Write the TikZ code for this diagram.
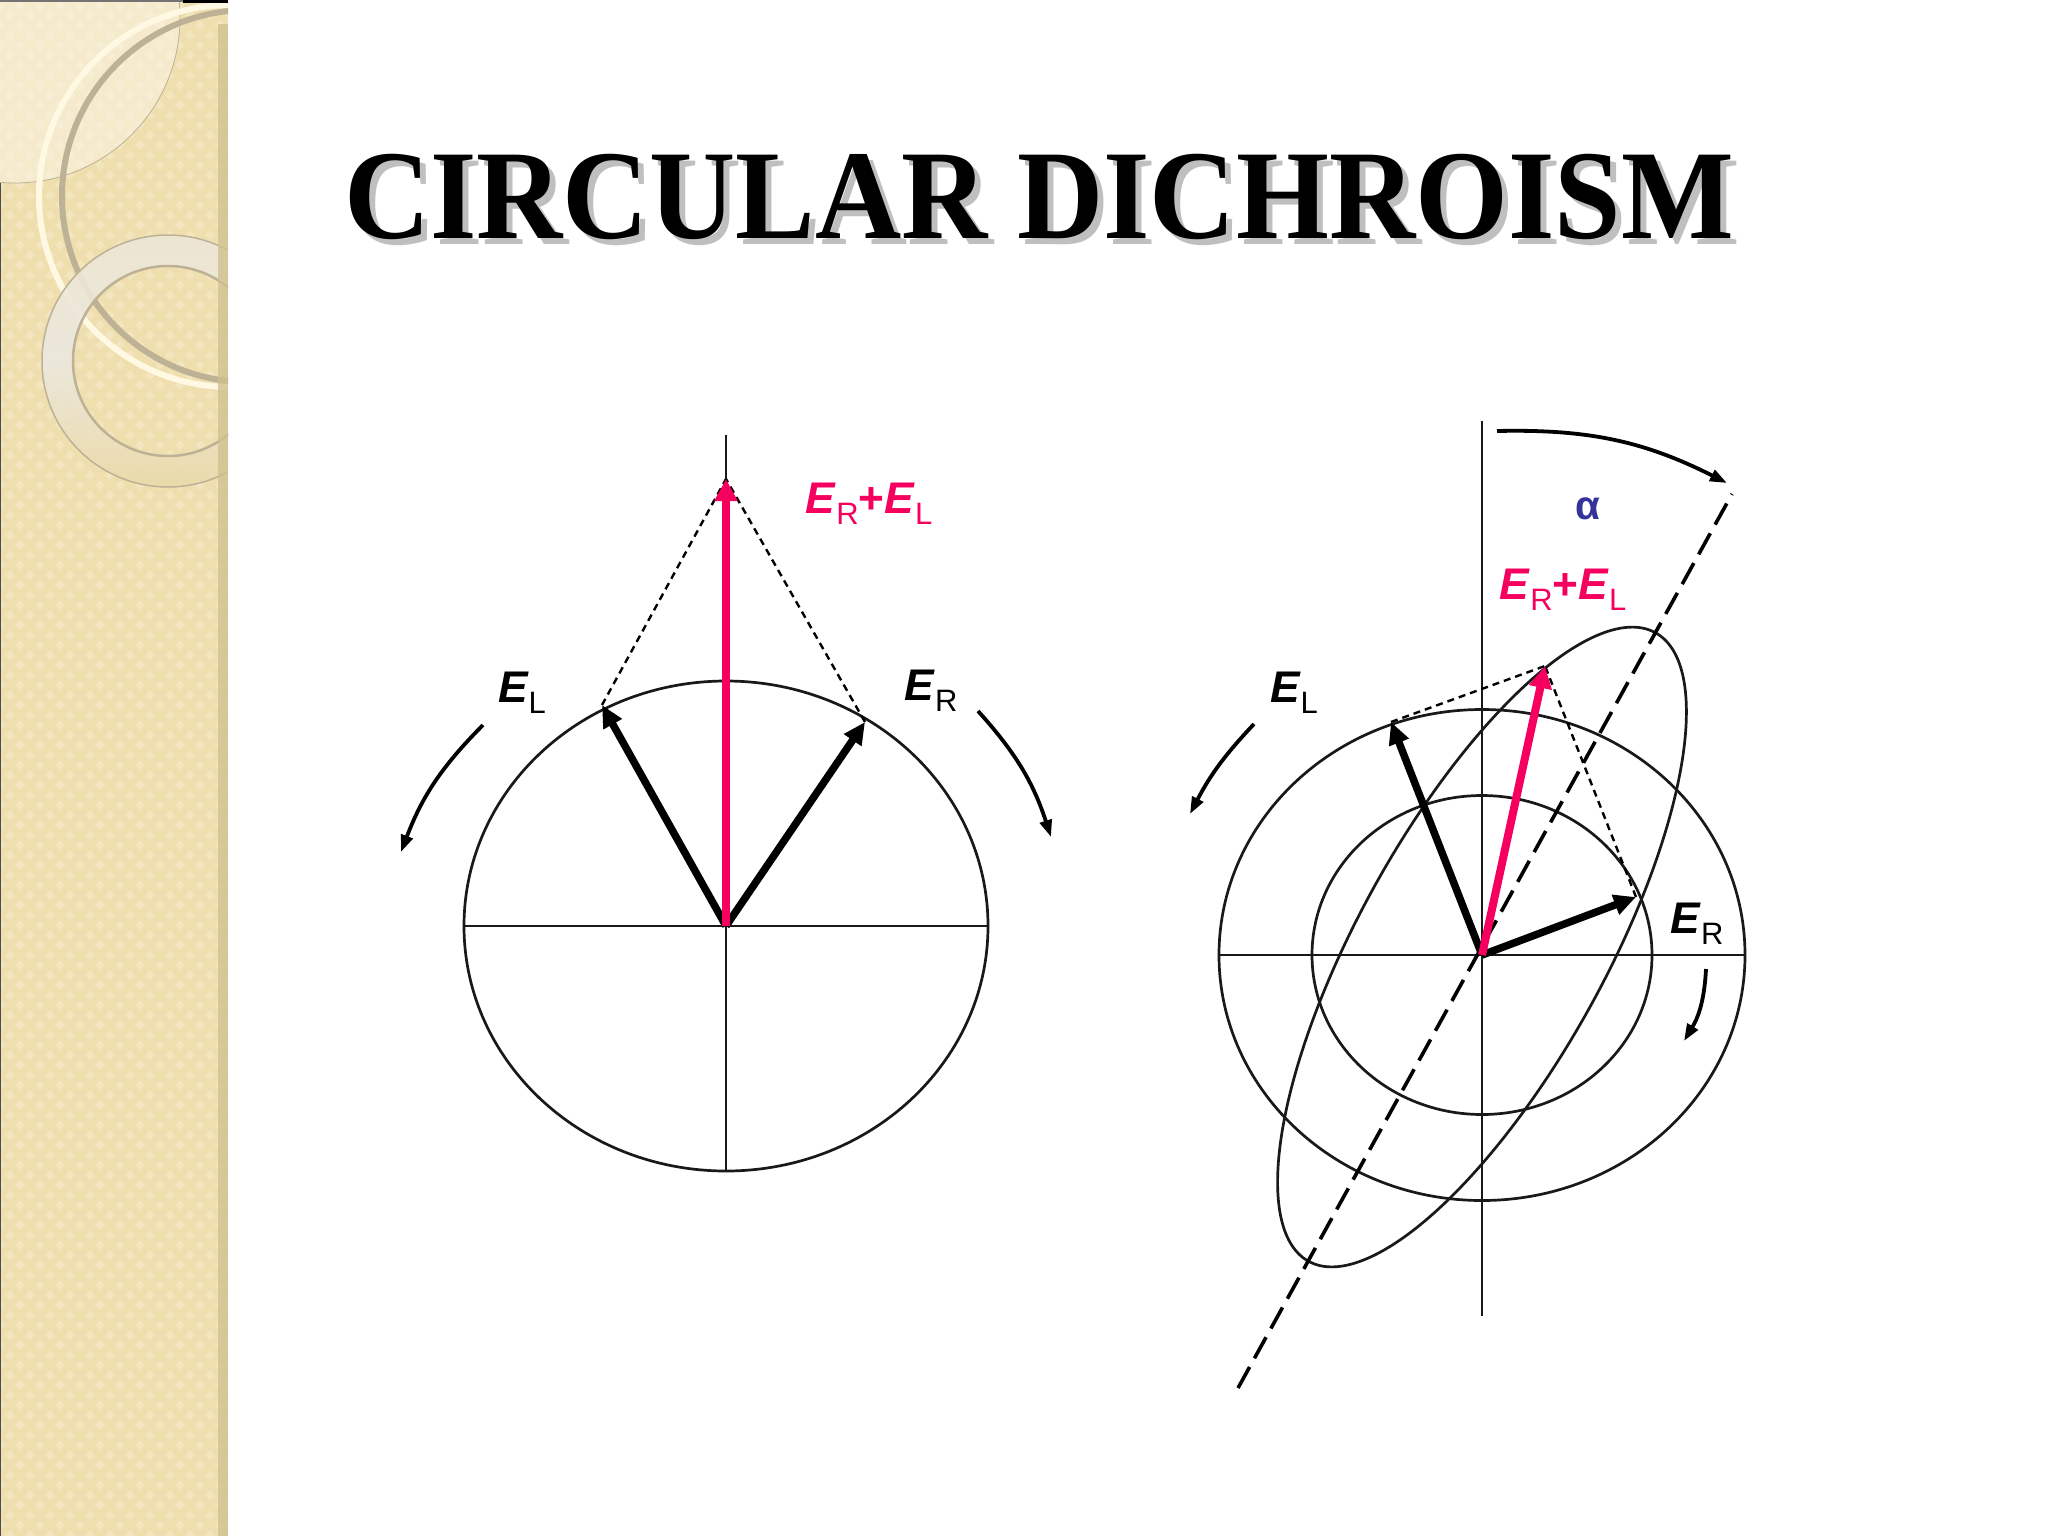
\documentclass[tikz,border=0pt]{standalone}
\usepackage{fontspec}
\setmainfont{Liberation Sans}
\newfontfamily\titlefont{Liberation Serif}
\usetikzlibrary{arrows.meta}
\definecolor{pinkv}{HTML}{F5005F}
\definecolor{bluea}{HTML}{333399}
\definecolor{side}{HTML}{EFDFAE}
\definecolor{sidel}{HTML}{F3E5BE}
\definecolor{band}{HTML}{D0C190}
\definecolor{ringg}{HTML}{BDB196}
\definecolor{ringw}{HTML}{FFF8E2}
\newcommand{\px}{0.2845pt}
\newcommand{\Ee}{\fontsize{12.6}{15}\selectfont\textbf{\textit{E}}}
\newcommand{\Sb}[1]{\raisebox{-0.45ex}{\fontsize{8.8}{10}\selectfont #1}}
\tikzset{
 x=0.01cm,y=-0.01cm,
 thin line/.style={line width=2.7*\px,black!90},
 vec/.style={line width=7.5*\px,-{Triangle[length=22*\px,width=20*\px]},black},
 sumvec/.style={line width=8*\px,-{Triangle[length=22*\px,width=22*\px]},pinkv},
 guide/.style={line width=2.4*\px,dash pattern=on 7*\px off 5*\px,black},
 axis dash/.style={line width=3.6*\px,dash pattern=on 24*\px off 10*\px,black},
 turn/.style={line width=3.8*\px,-{Triangle[length=17*\px,width=12*\px]},black},
 lab/.style={inner sep=0pt,text=black},
 labp/.style={inner sep=0pt,text=pinkv},
 titletext/.style={inner sep=0pt,xscale=0.938},
}
\begin{document}
\begin{tikzpicture}
\useasboundingbox (0,0) rectangle (2048,1536);
\fill[white] (0,0) rectangle (2048,1536);
% sidebar
\begin{scope}
\clip (0,0) rectangle (228,1536);
\fill[side] (0,0) rectangle (228,1536);
\fill[sidel] \foreach \j in {0,...,160}{ \foreach \i in {0,...,12}{
   ({\i*20+mod(\j,2)*10},{\j*10}) -- ++(5,5) -- ++(-5,5) -- ++(-5,-5) -- cycle }};
\fill[white,opacity=.38] (15,18) circle (165);
\draw[line width=.8*\px,ringg] (15,18) circle (165);
\draw[line width=6*\px,ringw] (230,196) circle (191);
\draw[line width=6*\px,ringg] (248,196) circle (186);
\shade[top color=ringw!60!ringg!70!white,bottom color=side!85!band,middle color=ringg!30!white,opacity=.9,even odd rule]
  (168,361) circle (126) (168,361) circle (95);
\draw[line width=1.5*\px,ringg] (168,361) circle (126);
\draw[line width=2.5*\px,ringg] (168,361) circle (95);
\fill[band,opacity=.8] (218,24) rectangle (228,1536);
\fill[black] (183,0) rectangle (228,3);
\fill[black!55] (0,0) rectangle (183,2);
\fill[black!70] (0,183) rectangle (1.5,1536);
\end{scope}
% title
\node[titletext,text=black!25] (titleshadow) at (1045,203) {\titlefont\bfseries\fontsize{36.2}{40}\selectfont CIRCULAR DICHROISM};
\node[titletext,text=black] (title) at (1039,197) {\titlefont\bfseries\fontsize{36.2}{40}\selectfont CIRCULAR DICHROISM};
% left diagram
\coordinate (lc) at (726,926);
\coordinate (lw) at (464,926);
\coordinate (le) at (989,926);
\coordinate (ltop) at (726,435);
\coordinate (lbot) at (726,1171);
\coordinate (lsum) at (726,479);
\coordinate (lL) at (602,705);
\coordinate (lR) at (865,722);
\draw[thin line] (lc) ellipse [x radius=262,y radius=245];
\draw[thin line] (lw) -- (le);
\draw[thin line] (ltop) -- (lbot);
\draw[guide] (lL) -- (lsum);
\draw[guide] (lR) -- (lsum);
\draw[vec] (lc) -- (lL);
\draw[vec] (lc) -- (lR);
\draw[sumvec] (lc) -- (lsum);
\coordinate (la1) at (483,725); \coordinate (la2) at (401,852);
\coordinate (lb1) at (978,711); \coordinate (lb2) at (1051,837);
\draw[turn] (la1) to[bend right=12] (la2);
\draw[turn] (lb1) to[bend left=12] (lb2);
\node[labp] (lsumlab) at (869,504) {\Ee\Sb{R}\textbf{+}\Ee\Sb{L}};
\node[lab] (lEL) at (522,693) {\Ee\Sb{L}};
\node[lab] (lER) at (931,691) {\Ee\Sb{R}};
% right diagram
\coordinate (rc) at (1482,955);
\coordinate (rw) at (1218,955);
\coordinate (re) at (1745,955);
\coordinate (rtop) at (1482,421);
\coordinate (rbot) at (1482,1316);
\coordinate (rsum) at (1545,666);
\coordinate (rL) at (1391,722);
\coordinate (rR) at (1636,897);
\coordinate (rd1) at (1238,1388);
\coordinate (rd2) at (1732,494);
\draw[thin line] (rc) ellipse [x radius=263,y radius=245.5];
\draw[thin line] (rc) ellipse [x radius=170,y radius=159.5];
\draw[thin line,smooth,domain=0:360,samples=180]
  plot ({1482+359*cos(\x)*sin(28.9)+123.5*sin(\x)*cos(28.9)},
        {947-359*cos(\x)*cos(28.9)+123.5*sin(\x)*sin(28.9)});
\draw[thin line] (rw) -- (re);
\draw[thin line] (rtop) -- (rbot);
\draw[axis dash] (rd1) -- (rd2);
\draw[guide] (rL) -- (rsum);
\draw[guide] (rR) -- (rsum);
\draw[vec] (rc) -- (rL);
\draw[vec] (rc) -- (rR);
\draw[sumvec] (rc) -- (rsum);
\coordinate (ra1) at (1497,431); \coordinate (ra2) at (1727,483);
\coordinate (rb1) at (1254,724); \coordinate (rb2) at (1190,814);
\coordinate (rg1) at (1706,969); \coordinate (rg2) at (1684,1041);
\draw[turn] (ra1) to[bend left=14] (ra2);
\draw[turn] (rb1) to[bend right=8] (rb2);
\draw[turn] (rg1) to[bend left=14] (rg2);
\node[inner sep=0pt,text=bluea] (ralpha) at (1588,509) {\fontsize{11.5}{13}\selectfont\textbf{α}};
\node[labp] (rsumlab) at (1563,590) {\Ee\Sb{R}\textbf{+}\Ee\Sb{L}};
\node[lab] (rEL) at (1294,693) {\Ee\Sb{L}};
\node[lab] (rER) at (1697,924) {\Ee\Sb{R}};
\end{tikzpicture}
\end{document}
